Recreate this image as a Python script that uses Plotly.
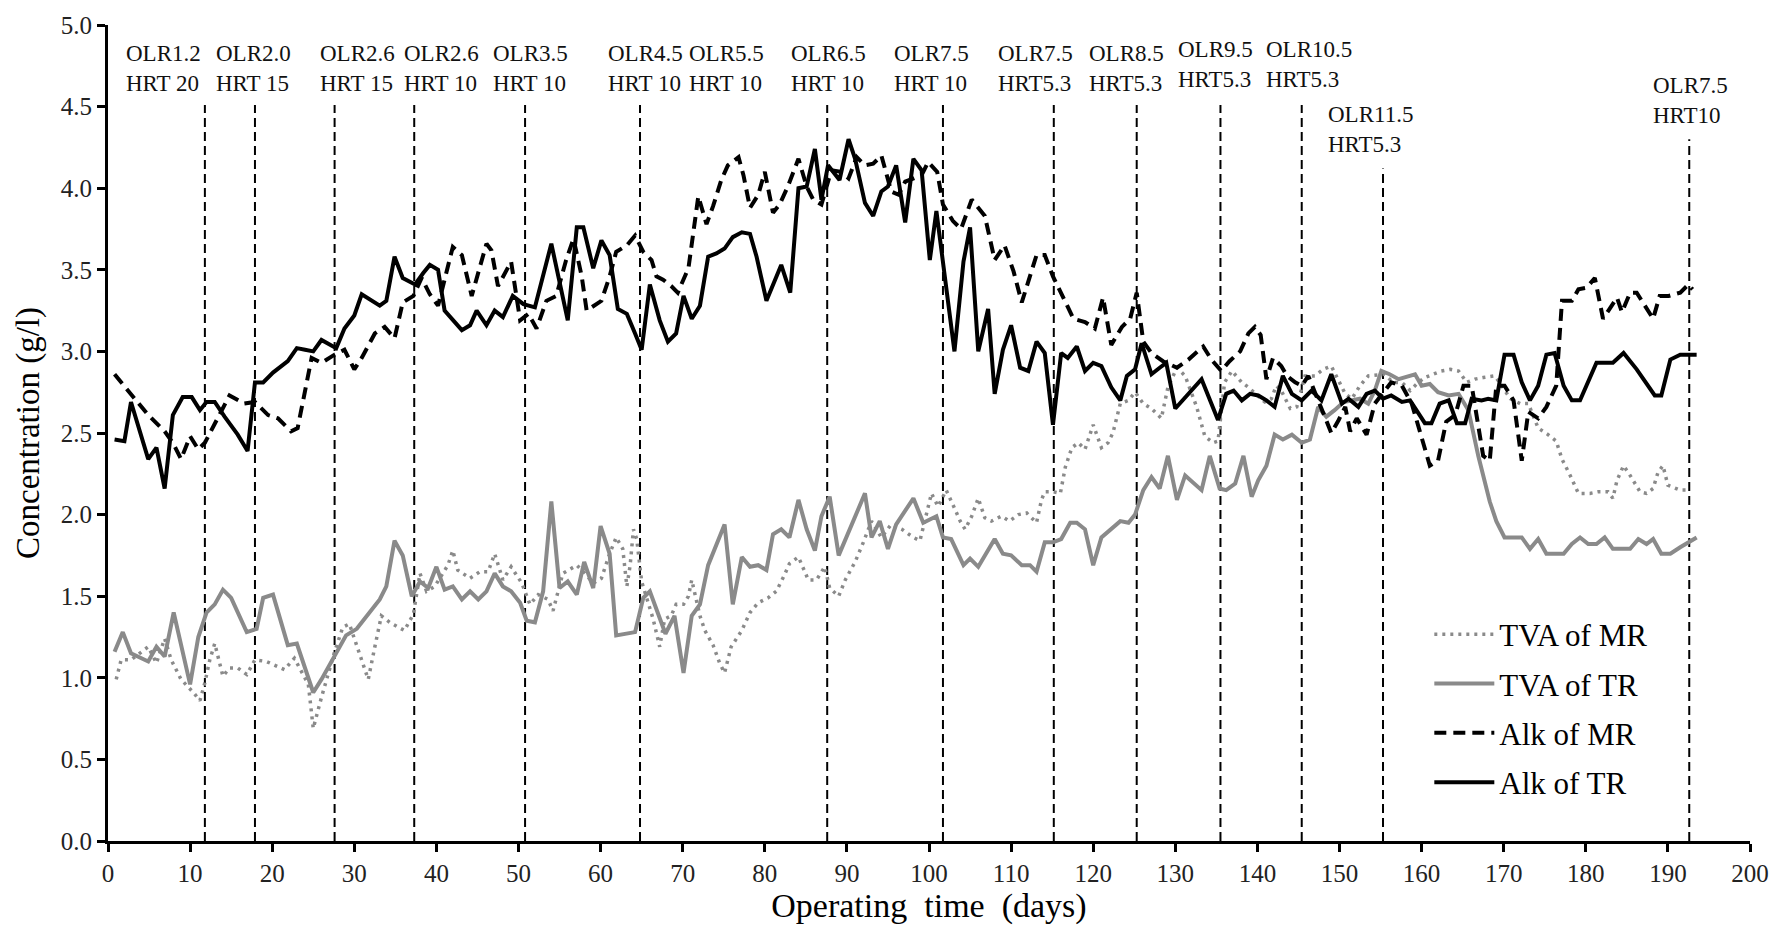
import plotly.graph_objects as go

# ---------------- data ----------------
tva_mr_day = [1.0, 1.6, 2.8, 4.9, 5.9, 6.9, 7.7, 8.3, 8.9, 10.4, 11.2, 11.8, 12.4, 13.0, 14.0, 14.8, 15.8,
              16.9, 17.9, 19.3, 20.5, 21.5, 22.7, 23.6, 24.4, 25.0, 26.0, 27.6, 28.6, 29.4, 30.5, 31.7,
              32.5, 33.3, 34.3, 36.1, 37.2, 38.0, 38.8, 39.8, 41.4, 42.0, 42.6, 44.1, 45.3, 46.3, 47.1,
              48.1, 49.1, 50.4, 51.4, 52.4, 53.6, 54.2, 55.4, 57.1, 58.1, 59.1, 60.1, 61.1, 61.9, 62.7,
              63.2, 63.6, 64.0, 64.4, 65.0, 66.4, 67.2, 67.8, 68.6, 69.2, 70.1, 70.7, 71.1, 72.1, 72.7,
              73.7, 74.5, 75.1, 75.9, 77.2, 78.2, 79.2, 80.4, 81.4, 82.4, 83.0, 84.1, 85.3, 86.3, 87.3,
              87.9, 89.0, 89.8, 91.0, 92.0, 93.0, 94.2, 95.4, 96.7, 98.1, 98.9, 99.7, 100.3, 101.1,
              102.1, 103.1, 103.8, 104.4, 105.2, 106.0, 106.8, 107.6, 108.8, 109.8, 110.9, 111.9, 113.1,
              113.7, 114.1, 115.1, 116.0, 116.6, 117.4, 118.2, 119.0, 120.0, 121.0, 121.8, 122.4, 123.3,
              124.3, 125.1, 126.1, 127.1, 128.3, 129.1, 130.2, 131.2, 132.6, 133.6, 134.6, 135.2, 136.0,
              136.9, 138.1, 138.9, 140.9, 141.7, 142.3, 142.9, 144.0, 144.8, 145.8, 147.0, 148.0, 149.0,
              150.7, 151.5, 152.5, 153.5, 155.5, 156.5, 157.6, 158.6, 159.6, 160.4, 161.4, 162.4, 163.5,
              164.5, 165.5, 166.5, 167.5, 168.9, 169.5, 170.8, 172.0, 173.0, 174.2, 175.4, 176.4, 177.1,
              178.1, 179.1, 180.5, 181.5, 182.7, 183.3, 183.8, 184.6, 185.4, 186.6, 187.4, 188.2, 188.8,
              189.4, 190.0, 191.5, 192.5]
tva_mr = [0.99, 1.11, 1.11, 1.19, 1.09, 1.24, 1.11, 1.05, 0.99, 0.91, 0.86, 0.97, 1.11, 1.21, 1.01, 1.06, 1.06,
          1.02, 1.11, 1.10, 1.07, 1.05, 1.12, 1.04, 0.96, 0.69, 0.88, 1.16, 1.31, 1.33, 1.16, 0.99,
          1.19, 1.38, 1.34, 1.29, 1.39, 1.64, 1.53, 1.56, 1.69, 1.78, 1.66, 1.61, 1.65, 1.65, 1.76,
          1.60, 1.68, 1.58, 1.45, 1.51, 1.48, 1.41, 1.64, 1.69, 1.64, 1.58, 1.61, 1.76, 1.86, 1.79,
          1.56, 1.69, 1.91, 1.85, 1.59, 1.36, 1.19, 1.36, 1.38, 1.45, 1.45, 1.50, 1.60, 1.38, 1.29,
          1.20, 1.09, 1.03, 1.19, 1.29, 1.40, 1.46, 1.49, 1.53, 1.63, 1.70, 1.74, 1.60, 1.60, 1.68,
          1.55, 1.50, 1.60, 1.71, 1.83, 1.96, 1.86, 1.94, 1.91, 1.86, 1.84, 2.01, 2.13, 2.05,
          2.15, 2.04, 1.96, 1.91, 1.99, 2.10, 1.98, 1.96, 1.99, 1.96, 2.00, 2.01, 1.95,
          2.09, 2.14, 2.14, 2.13, 2.29, 2.41, 2.44, 2.40, 2.55, 2.41, 2.44, 2.50, 2.68,
          2.70, 2.75, 2.68, 2.65, 2.59, 2.78, 2.90, 2.85, 2.66, 2.48, 2.44, 2.45, 2.81,
          2.88, 2.81, 2.78, 2.69, 2.71, 2.79, 2.76, 2.65, 2.66, 2.85, 2.85, 2.89, 2.91,
          2.74, 2.71, 2.79, 2.85, 2.86, 2.81, 2.81, 2.76, 2.81, 2.84, 2.86, 2.88, 2.89,
          2.88, 2.81, 2.83, 2.84, 2.85, 2.81, 2.71, 2.68, 2.68, 2.53, 2.49, 2.45, 2.34,
          2.24, 2.13, 2.13, 2.14, 2.14, 2.10, 2.21, 2.30, 2.24, 2.14, 2.13, 2.16, 2.26,
          2.30, 2.18, 2.15, 2.15]

tva_tr_day = [0.8, 1.8, 2.8, 4.9, 5.9, 6.9, 8.0, 10.0, 11.0, 12.0, 13.0, 14.0, 15.0, 16.9, 18.1, 18.9, 20.1,
              21.9, 23.0, 25.0, 26.0, 27.6, 29.0, 30.3, 32.1, 33.1, 33.9, 34.9, 35.9, 37.0, 38.0, 39.0,
              40.0, 41.0, 42.0, 43.1, 44.1, 45.1, 46.1, 47.1, 48.1, 49.1, 50.2, 51.0, 52.0, 53.0, 54.0,
              55.0, 56.0, 57.1, 58.0, 59.1, 60.0, 61.1, 61.9, 64.2, 65.2, 66.0, 67.9, 69.0, 70.1, 71.1,
              72.1, 73.1, 75.1, 76.1, 77.2, 78.2, 79.2, 80.2, 81.0, 82.0, 83.0, 84.1, 85.1, 86.1, 86.9,
              87.9, 89.0, 90.2, 92.2, 93.0, 94.0, 95.0, 96.0, 98.1, 99.3, 100.1, 100.9, 101.7, 102.7,
              104.2, 105.0, 106.0, 108.0, 109.0, 110.0, 111.3, 112.3, 113.1, 114.1, 115.1, 116.1, 117.2,
              118.0, 119.0, 120.0, 121.0, 122.2, 123.3, 124.3, 125.1, 126.1, 127.1, 128.1, 129.1, 130.2,
              131.2, 133.2, 134.2, 135.4, 136.2, 137.3, 138.3, 139.3, 140.1, 141.1, 142.1, 143.1, 144.2,
              145.4, 146.4, 147.4, 148.4, 149.4, 150.5, 152.5, 153.5, 154.3, 155.1, 156.1, 157.2, 159.2,
              160.0, 161.0, 162.0, 163.3, 164.5, 165.7, 166.9, 168.3, 169.1, 170.1, 172.2, 173.2, 174.2,
              175.2, 177.3, 178.3, 179.3, 180.3, 181.3, 182.3, 183.3, 185.4, 186.4, 187.4, 188.2, 189.2,
              190.3, 191.5, 193.5]
tva_tr = [1.16, 1.28, 1.15, 1.10, 1.19, 1.13, 1.40, 0.96, 1.25, 1.40, 1.45, 1.54, 1.49, 1.28, 1.30, 1.49, 1.51,
          1.20, 1.21, 0.91, 0.99, 1.14, 1.26, 1.30, 1.41, 1.48, 1.56, 1.84, 1.75, 1.50, 1.59, 1.55,
          1.68, 1.54, 1.56, 1.48, 1.53, 1.48, 1.53, 1.64, 1.56, 1.53, 1.46, 1.35, 1.34, 1.53, 2.08,
          1.55, 1.59, 1.51, 1.71, 1.55, 1.93, 1.76, 1.26, 1.28, 1.49, 1.53, 1.27, 1.38, 1.03, 1.38,
          1.45, 1.69, 1.94, 1.45, 1.74, 1.68, 1.69, 1.66, 1.88, 1.91, 1.86, 2.09, 1.91, 1.78, 1.99,
          2.11, 1.75, 1.89, 2.13, 1.86, 1.96, 1.79, 1.94, 2.10, 1.95, 1.97, 1.99, 1.86, 1.85,
          1.69, 1.73, 1.68, 1.85, 1.76, 1.75, 1.69, 1.69, 1.65, 1.83, 1.83, 1.85, 1.95,
          1.95, 1.91, 1.69, 1.86, 1.91, 1.96, 1.95, 2.00, 2.15, 2.23, 2.16, 2.36, 2.09,
          2.24, 2.15, 2.36, 2.16, 2.15, 2.19, 2.36, 2.11, 2.21, 2.30, 2.49, 2.46, 2.49,
          2.44, 2.46, 2.66, 2.60, 2.64, 2.69, 2.71, 2.68, 2.76, 2.88, 2.86, 2.83, 2.86,
          2.79, 2.80, 2.75, 2.73, 2.74, 2.64, 2.36, 2.08, 1.96, 1.86, 1.86, 1.79, 1.85,
          1.76, 1.76, 1.82, 1.86, 1.82, 1.82, 1.86, 1.79, 1.79, 1.85, 1.82, 1.85, 1.76,
          1.76, 1.80, 1.86]

alk_mr_day = [0.8, 2.8, 4.9, 6.9, 7.9, 8.9, 10.0, 11.0, 11.8, 14.8, 16.6, 17.9, 19.5, 20.7, 22.3, 23.1,
              24.8, 26.0, 27.6, 28.8, 30.0, 30.9, 32.5, 33.7, 34.9, 35.9, 37.2, 38.2, 39.2, 40.2, 42.0,
              43.1, 44.3, 46.1, 46.7, 47.5, 49.1, 50.2, 51.2, 52.2, 53.4, 54.6, 55.8, 56.7, 57.7, 58.3,
              60.1, 61.1, 61.9, 63.2, 64.2, 65.2, 66.2, 66.8, 67.6, 68.6, 69.4, 70.7, 71.3, 71.9, 72.9,
              73.7, 74.7, 75.5, 76.8, 77.4, 78.2, 79.2, 80.0, 81.0, 81.8, 82.8, 84.1, 85.1, 85.9, 86.9,
              88.1, 89.3, 90.2, 91.2, 92.2, 93.2, 94.2, 95.4, 96.3, 97.1, 99.1, 99.9, 101.0, 101.7,
              102.9, 103.9, 105.2, 106.8, 108.0, 109.2, 110.3, 111.3, 113.1, 114.1, 115.1, 116.3, 117.6,
              119.0, 120.2, 121.2, 122.2, 123.5, 124.5, 125.3, 126.1, 127.1, 128.5, 130.2, 131.6, 133.4,
              134.4, 135.6, 136.6, 137.9, 138.9, 139.7, 140.4, 141.1, 141.9, 142.9, 143.6, 144.6, 145.4,
              146.2, 147.0, 149.0, 149.9, 150.7, 151.3, 152.1, 153.3, 154.3, 156.3, 157.6, 158.8, 161.0,
              162.0, 163.0, 164.1, 165.1, 166.1, 167.5, 168.3, 169.1, 170.1, 171.2, 172.2, 173.0, 174.2,
              175.2, 176.4, 177.1, 178.3, 179.1, 180.1, 181.1, 182.1, 183.8, 184.4, 185.4, 186.2, 188.2,
              189.0, 190.1, 191.5, 192.5, 193.0]
alk_mr = [2.86, 2.74, 2.61, 2.51, 2.44, 2.34, 2.48, 2.40, 2.44, 2.73, 2.68, 2.69, 2.61, 2.59, 2.51, 2.53,
          2.96, 2.93, 2.98, 3.01, 2.89, 2.96, 3.11, 3.15, 3.08, 3.30, 3.34, 3.45, 3.35, 3.28, 3.64,
          3.59, 3.34, 3.66, 3.62, 3.40, 3.55, 3.19, 3.23, 3.14, 3.31, 3.34, 3.56, 3.69, 3.46, 3.25,
          3.31, 3.46, 3.61, 3.65, 3.71, 3.61, 3.56, 3.46, 3.44, 3.40, 3.36, 3.51, 3.71, 3.95, 3.78,
          3.89, 4.05, 4.14, 4.19, 4.08, 3.88, 3.96, 4.10, 3.85, 3.90, 4.01, 4.18, 4.01, 3.93, 3.90,
          4.11, 4.10, 4.06, 4.19, 4.14, 4.15, 4.20, 3.98, 3.96, 4.04, 4.08, 4.16, 4.10, 3.90,
          3.80, 3.75, 3.93, 3.83, 3.56, 3.65, 3.49, 3.30, 3.59, 3.59, 3.46, 3.34, 3.20,
          3.18, 3.14, 3.33, 3.04, 3.15, 3.20, 3.36, 3.06, 2.99, 2.94, 2.90, 2.95, 3.03,
          2.95, 2.88, 2.94, 3.00, 3.11, 3.15, 3.10, 2.83, 2.96, 2.91, 2.85, 2.81, 2.79,
          2.85, 2.75, 2.50, 2.58, 2.66, 2.51, 2.59, 2.49, 2.68, 2.81, 2.79, 2.68, 2.30,
          2.33, 2.57, 2.61, 2.79, 2.79, 2.36, 2.33, 2.79, 2.79, 2.70, 2.33, 2.63, 2.59,
          2.66, 2.79, 3.31, 3.31, 3.38, 3.39, 3.45, 3.20, 3.33, 3.24, 3.36, 3.36, 3.20,
          3.34, 3.34, 3.36, 3.41, 3.38]

alk_tr_day = [0.8, 2.0, 2.8, 4.9, 5.9, 6.9, 7.9, 9.1, 10.2, 11.2, 12.0, 13.0, 14.2, 15.8, 17.0, 17.9, 18.9,
              20.1, 21.9, 23.0, 24.0, 25.0, 26.0, 27.0, 27.8, 28.8, 30.0, 30.9, 32.1, 33.1, 33.9, 34.9,
              35.9, 37.4, 38.4, 39.2, 40.2, 41.0, 43.1, 44.1, 44.9, 46.1, 47.1, 48.1, 49.3, 50.6, 52.0,
              54.0, 56.0, 57.1, 57.9, 59.1, 60.1, 61.1, 62.1, 63.2, 64.2, 65.0, 66.0, 67.2, 68.2, 69.2,
              70.1, 71.1, 72.1, 73.1, 74.1, 75.1, 76.1, 77.2, 78.2, 79.0, 80.2, 81.2, 82.0, 83.1, 84.1,
              85.1, 86.1, 86.9, 87.7, 89.1, 90.2, 91.0, 92.2, 93.2, 94.2, 95.0, 96.0, 97.1, 98.1, 99.1,
              100.1, 100.9, 103.1, 104.2, 105.0, 106.0, 107.2, 108.0, 109.0, 110.0, 111.1, 112.1, 113.1,
              114.1, 115.1, 116.1, 116.9, 118.0, 119.0, 120.0, 121.0, 122.2, 123.3, 124.1, 125.1, 125.9,
              127.1, 128.1, 128.9, 130.0, 131.4, 133.2, 135.2, 136.2, 137.1, 138.1, 139.1, 140.1, 141.1,
              142.1, 143.1, 144.2, 145.4, 146.6, 147.8, 149.0, 150.3, 151.1, 152.3, 153.3, 154.3, 155.3,
              156.3, 157.6, 158.6, 160.4, 161.2, 162.2, 163.3, 164.3, 165.3, 166.1, 167.3, 168.1, 169.1,
              170.1, 171.2, 172.2, 173.2, 174.2, 175.2, 176.2, 177.3, 178.3, 179.3, 181.3, 183.3, 184.6,
              186.2, 187.4, 188.4, 189.2, 190.3, 191.5, 193.5]
alk_tr = [2.46, 2.45, 2.69, 2.34, 2.41, 2.16, 2.61, 2.72, 2.72, 2.64, 2.69, 2.69, 2.60, 2.49, 2.39, 2.81, 2.81,
          2.87, 2.94, 3.02, 3.01, 3.00, 3.07, 3.04, 3.02, 3.14, 3.22, 3.35, 3.31, 3.28, 3.31, 3.58,
          3.45, 3.41, 3.48, 3.53, 3.50, 3.25, 3.13, 3.16, 3.25, 3.16, 3.25, 3.21, 3.34, 3.29, 3.27,
          3.66, 3.19, 3.76, 3.76, 3.51, 3.68, 3.59, 3.26, 3.23, 3.11, 3.01, 3.41, 3.19, 3.06, 3.11,
          3.34, 3.20, 3.28, 3.58, 3.60, 3.63, 3.70, 3.73, 3.72, 3.58, 3.31, 3.43, 3.53, 3.36, 4.00,
          4.01, 4.24, 3.93, 4.14, 4.05, 4.30, 4.18, 3.91, 3.83, 3.98, 4.01, 4.14, 3.79, 4.18, 4.11,
          3.56, 3.86, 3.00, 3.55, 3.76, 3.00, 3.26, 2.74, 3.01, 3.16, 2.90, 2.88, 3.06,
          2.99, 2.55, 2.99, 2.96, 3.03, 2.88, 2.93, 2.91, 2.78, 2.70, 2.85, 2.89, 3.05,
          2.86, 2.90, 2.93, 2.65, 2.73, 2.83, 2.58, 2.74, 2.76, 2.70, 2.74, 2.73, 2.70,
          2.66, 2.85, 2.74, 2.70, 2.76, 2.70, 2.86, 2.68, 2.71, 2.66, 2.74, 2.76, 2.71,
          2.73, 2.69, 2.70, 2.56, 2.56, 2.68, 2.70, 2.56, 2.56, 2.71, 2.70, 2.71, 2.70,
          2.98, 2.98, 2.81, 2.70, 2.79, 2.98, 2.99, 2.79, 2.70, 2.70, 2.93, 2.93, 2.99,
          2.89, 2.80, 2.73, 2.73, 2.95, 2.98, 2.98]

# phase boundaries (days) and the tops of their dashed markers (g/l)
phase_days = [11.8, 17.9, 27.6, 37.3, 50.8, 64.8, 87.6, 101.7, 115.2, 125.3, 135.5, 145.4, 155.3, 192.6]
phase_tops = [4.51, 4.51, 4.51, 4.51, 4.51, 4.51, 4.51, 4.51, 4.51, 4.51, 4.51, 4.51, 4.12, 4.30]

# phase labels: text, left edge (day), vertical centre (g/l)
phase_labels = ["OLR1.2<br>HRT 20", "OLR2.0<br>HRT 15", "OLR2.6<br>HRT 15", "OLR2.6<br>HRT 10",
                "OLR3.5<br>HRT 10", "OLR4.5<br>HRT 10", "OLR5.5<br>HRT 10", "OLR6.5<br>HRT 10",
                "OLR7.5<br>HRT 10", "OLR7.5<br>HRT5.3", "OLR8.5<br>HRT5.3", "OLR9.5<br>HRT5.3",
                "OLR10.5<br>HRT5.3", "OLR11.5<br>HRT5.3", "OLR7.5<br>HRT10"]
label_x = [2.0, 12.85, 25.6, 35.8, 46.6, 60.6, 70.5, 82.9, 95.5, 108.2, 119.2, 130.1,
           140.8, 148.3, 188.0]
label_y = [4.735, 4.735, 4.735, 4.735, 4.735, 4.735, 4.735, 4.735, 4.735, 4.735, 4.735, 4.755,
           4.755, 4.36, 4.535]

FONT = "Liberation Serif"
GRAY = "#8a8a8a"

fig = go.Figure()
fig.add_trace(go.Scatter(x=tva_mr_day, y=tva_mr, mode="lines", name="TVA of MR", legendgroup="g1",
                         line=dict(color=GRAY, width=3.5, dash="3px,5px")))
fig.add_trace(go.Scatter(x=tva_tr_day, y=tva_tr, mode="lines", name="TVA of TR", legendgroup="g2",
                         line=dict(color=GRAY, width=4)))
fig.add_trace(go.Scatter(x=alk_mr_day, y=alk_mr, mode="lines", name="Alk of MR", legendgroup="g3",
                         line=dict(color="black", width=4, dash="12px,7px")))
fig.add_trace(go.Scatter(x=alk_tr_day, y=alk_tr, mode="lines", name="Alk of TR", legendgroup="g4",
                         line=dict(color="black", width=4)))

for d, top in zip(phase_days, phase_tops):
    fig.add_shape(type="line", xref="x", yref="y", x0=d, x1=d, y0=0, y1=top,
                  line=dict(color="black", width=2, dash="9px,5px"), layer="below")

for t, lx, ly in zip(phase_labels, label_x, label_y):
    fig.add_annotation(x=lx, y=ly, xref="x", yref="y", text=t, showarrow=False,
                       xanchor="left", yanchor="middle", align="left",
                       font=dict(family=FONT, size=23, color="#111111"))

axis_common = dict(showline=True, linecolor="black", linewidth=3, ticks="outside", ticklen=8,
                   tickwidth=2.5, tickcolor="black", showgrid=False, zeroline=False,
                   tickfont=dict(family=FONT, size=25, color="#222222"))

fig.update_layout(
    width=1787, height=930,
    margin=dict(l=108, r=37, t=19, b=89, pad=0),
    paper_bgcolor="white", plot_bgcolor="white",
    font=dict(family=FONT, color="black"),
    xaxis=dict(range=[0, 200], tick0=0, dtick=10,
               title=dict(text="Operating\u00a0\u00a0time\u00a0\u00a0(days)",
                          font=dict(family=FONT, size=34, color="black"), standoff=6),
               **axis_common),
    yaxis=dict(range=[0, 5], tick0=0, dtick=0.5, tickformat=".1f",
               title=dict(text="Concentration (g/l)",
                          font=dict(family=FONT, size=33, color="black"), standoff=12),
               **axis_common),
    legend=dict(x=0.8047, y=0.286, xanchor="left", yanchor="top", bgcolor="rgba(0,0,0,0)",
                font=dict(family=FONT, size=31, color="black"), tracegroupgap=6,
                traceorder="grouped", itemwidth=60),
    showlegend=True,
)

fig.write_html("out.html")
